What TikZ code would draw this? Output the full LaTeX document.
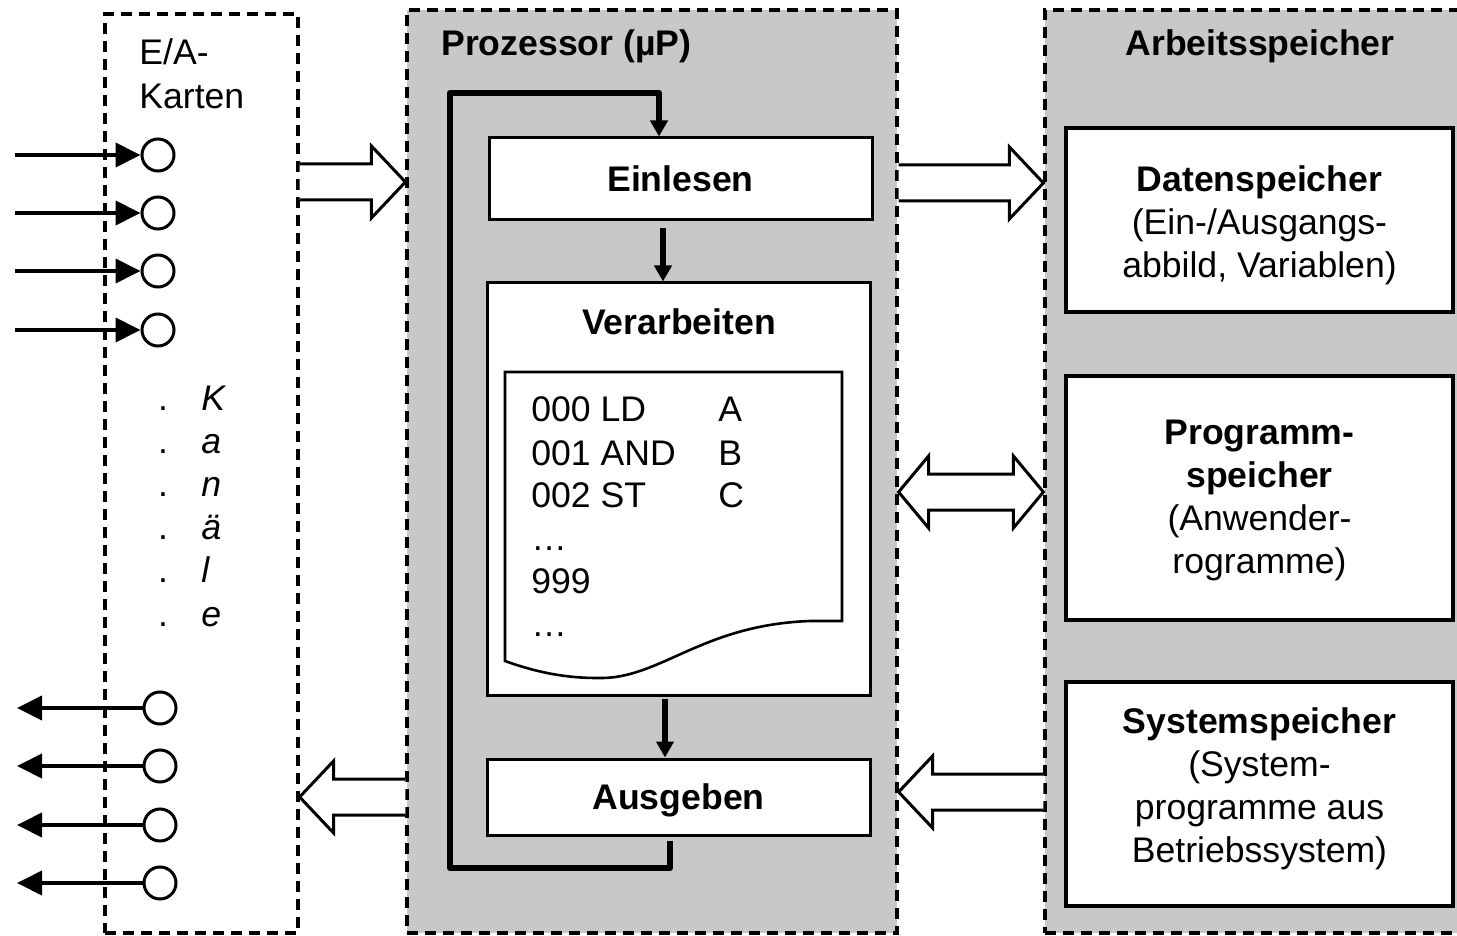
\documentclass[tikz,border=0pt]{standalone}
\usepackage{fontspec}
\setmainfont{Liberation Sans}
\usetikzlibrary{arrows.meta, calc, positioning}
\definecolor{grau}{RGB}{200,200,200}
\tikzset{
    every node/.style={font=\fontsize{17.8}{21.5}\selectfont, inner sep=0pt},
    gehaeuse/.style={draw, line width=1.6pt, dash pattern=on 5.5pt off 3.5pt},
    block/.style={draw, fill=white, line width=1.5pt, minimum width=191.5pt},
    memblock/.style={draw, fill=white, line width=2pt, minimum width=193.5pt},
    port/.style={circle, draw, fill=white, line width=1.5pt, minimum size=16pt},
    signal/.style={line width=2pt, -{Triangle[length=12.5pt,width=12pt]}},
    flow/.style={line width=3pt, line join=round, -{Triangle[length=8pt,width=8.5pt]}},
    fat/.style={draw, fill=white, line width=1.5pt, line join=miter,
        to path={let \p1=(\tikztostart), \p2=(\tikztotarget),
            \p3=($(\tikztotarget)!17pt!(\tikztostart)$) in
            (\x1,\y1+9pt) -- (\x3,\y1+9pt) -- (\x3,\y1+18pt) -- (\x2,\y2)
            -- (\x3,\y1-18pt) -- (\x3,\y1-9pt) -- (\x1,\y1-9pt)}
    },
    fatboth/.style={draw, fill=white, line width=1.5pt, line join=miter,
        to path={let \p1=(\tikztostart), \p2=(\tikztotarget),
            \p3=($(\tikztotarget)!15pt!(\tikztostart)$),
            \p4=($(\tikztostart)!15pt!(\tikztotarget)$) in
            (\x1,\y1) -- (\x4,\y1+18pt) -- (\x4,\y1+9pt) -- (\x3,\y1+9pt)
            -- (\x3,\y1+18pt) -- (\x2,\y2) -- (\x3,\y1-18pt) -- (\x3,\y1-9pt)
            -- (\x4,\y1-9pt) -- (\x4,\y1-18pt) -- cycle}
    }
}
\begin{document}
\begin{tikzpicture}[x=0.5pt, y=-0.5pt]
    \useasboundingbox (0,0) rectangle (1457,936);
    \clip (0,0) rectangle (1457,936);
    % Gehaeuse
    \node[gehaeuse, minimum width=96.5pt, minimum height=459.5pt] (ea) at (201.5,473.5) {};
    \node[gehaeuse, fill=grau, minimum width=245pt, minimum height=461.5pt] (proc) at (652,471.5) {};
    \node[gehaeuse, fill=grau, minimum width=215pt, minimum height=461.5pt] (mem) at (1260,471.5) {};
    \node[anchor=west] (ptitel) at (441,46) {\bfseries Prozessor (µP)};
    \node (mtitel) at (1260,46) {\bfseries Arbeitsspeicher};
    % E/A-Karten
    \node[anchor=west] (eatitel1) at (139,52) {E/A-};
    \node[anchor=west] (eatitel2) at (139,96) {Karten};
    \foreach \y [count=\i] in {155,213,271,330} {
        \node[port] (in\i) at (158,\y) {};
        \coordinate (src\i) at (15,\y);
        \draw[signal] (src\i) -- (in\i);
    }
    \foreach \y [count=\i] in {708,766,825,883} {
        \node[port] (out\i) at (160,\y) {};
        \coordinate (dst\i) at (17,\y);
        \draw[signal] (out\i) -- (dst\i);
    }
    \foreach \c [count=\i] in {K,a,n,ä,l,e} {
        \node[anchor=base] (dot\i) at (163,{410+43.2*(\i-1)}) {.};
        \node[anchor=base west] (kanal\i) at (201,{410+43.2*(\i-1)}) {\itshape\c};
    }
    % Prozessor
    \node[block, minimum height=41pt] (ein) at (680.5,179) {\bfseries Einlesen};
    \node[block, minimum height=206pt] (verarb) at (678.5,489) {};
    \node (vtitel) at (679,322) {\bfseries Verarbeiten};
    \draw[line width=1.3pt, fill=white] (505,372) -- (842,372) -- (842,621) -- (810,621)
        .. controls (700,625) and (660,680) .. (597,678)
        .. controls (560,678) and (530,670) .. (505,661) -- cycle;
    \node[anchor=base west] (code) at (531,422) {\begin{tabular}[t]{@{}p{93.5pt}@{}l@{}}
        000 LD & A\\ 001 AND & B\\ 002 ST & C\\ … & \\ 999 & \\ … & \end{tabular}};
    \node[block, minimum height=38pt, text depth=0pt] (aus) at (678.5,797) {\bfseries Ausgeben};
    \coordinate (schleife-u) at (450,868);
    \coordinate (schleife-o) at (450,93);
    \draw[flow] ([xshift=-8.75pt,yshift=-3.5pt]ein.south) -- ([xshift=-8.75pt]ein.south |- verarb.north);
    \draw[flow] ([xshift=-6.75pt,yshift=-1pt]verarb.south) -- ([xshift=-6.75pt]verarb.south |- aus.north);
    \draw[flow, line width=3.2pt] ([xshift=-4.25pt,yshift=-2pt]aus.south) |- (schleife-u) -- (schleife-o)
        -| ([xshift=-10.75pt]ein.north);
    % Arbeitsspeicher
    \node[memblock, minimum height=92pt] (daten) at (1259.5,220) {};
    \node[align=center] (datentext) at (1259.5,225) {\bfseries Datenspeicher\\(Ein-/Ausgangs-\\abbild, Variablen)};
    \node[memblock, minimum height=122pt] (prog) at (1259.5,498) {};
    \node[align=center] (progtext) at (1259.5,500.5) {\bfseries Programm-\\\bfseries speicher\\(Anwender-\\rogramme)};
    \node[memblock, minimum height=112pt] (sys) at (1259.5,794) {};
    \node[align=center] (systext) at (1259.5,788.5) {\bfseries Systemspeicher\\(System-\\programme aus\\Betriebssystem)};
    % Busse
    \coordinate (b1s) at (ea.east |- 0,182);
    \coordinate (b1t) at (proc.west |- 0,182);
    \coordinate (b2s) at (proc.east |- 0,183);
    \coordinate (b2t) at (mem.west |- 0,183);
    \coordinate (b3s) at (proc.east |- 0,492);
    \coordinate (b3t) at (mem.west |- 0,492);
    \coordinate (b4s) at (mem.west |- 0,792);
    \coordinate (b4t) at (proc.east |- 0,792);
    \coordinate (b5s) at (proc.west |- 0,797);
    \coordinate (b5t) at (ea.east |- 0,797);
    \draw[fat] (b1s) to (b1t);
    \draw[fat] (b2s) to (b2t);
    \draw[fatboth] (b3s) to (b3t);
    \draw[fat] (b4s) to (b4t);
    \draw[fat] (b5s) to (b5t);
\end{tikzpicture}
\end{document}
